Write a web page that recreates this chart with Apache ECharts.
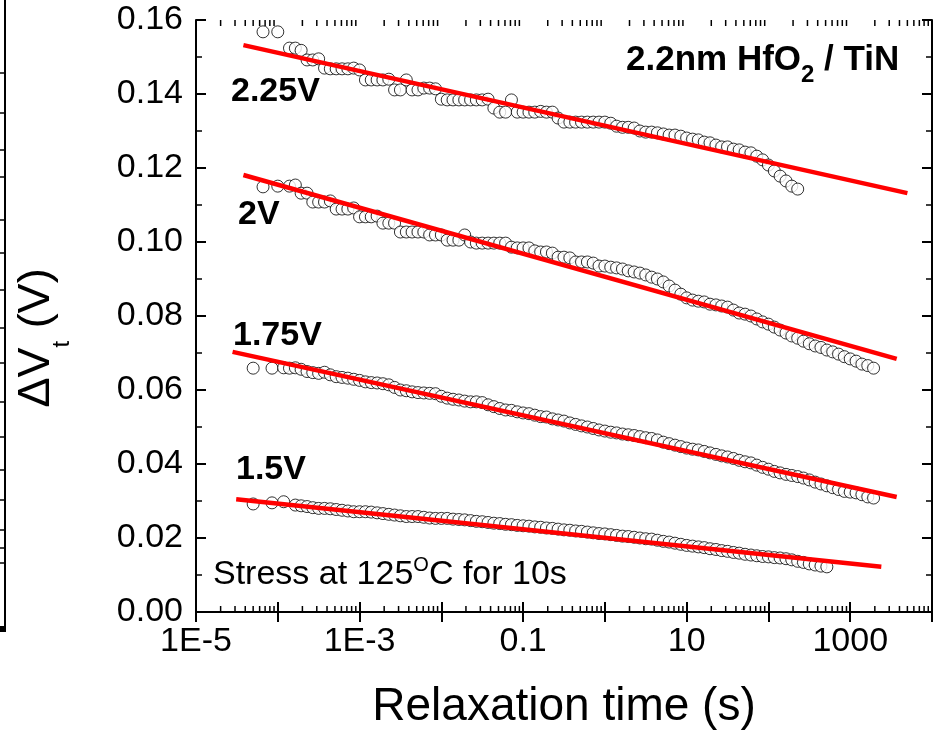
<!DOCTYPE html>
<html>
<head>
<meta charset="utf-8">
<script src="https://cdn.jsdelivr.net/npm/echarts@6/dist/echarts.min.js"></script>
<style>
  html, body { margin: 0; padding: 0; background: #fff; }
  #chart { width: 936px; height: 731px; }
</style>
</head>
<body>
<div id="chart"></div>
<script>
// relaxation time (s), shared by the four stress voltages
var relaxTime = [
  5.0e-5, 6.6e-5, 8.5e-5,
  1.00e-4, 1.18e-4, 1.39e-4, 1.64e-4, 1.93e-4, 2.28e-4, 2.68e-4, 3.16e-4, 3.73e-4, 4.39e-4, 5.18e-4, 6.11e-4, 7.20e-4, 8.48e-4,
  1.00e-3, 1.18e-3, 1.39e-3, 1.64e-3, 1.93e-3, 2.28e-3, 2.68e-3, 3.16e-3, 3.73e-3, 4.39e-3, 5.18e-3, 6.11e-3, 7.20e-3, 8.48e-3,
  1.00e-2, 1.18e-2, 1.39e-2, 1.64e-2, 1.93e-2, 2.28e-2, 2.68e-2, 3.16e-2, 3.73e-2, 4.39e-2, 5.18e-2, 6.11e-2, 7.20e-2, 8.48e-2,
  0.100, 0.118, 0.139, 0.164, 0.193, 0.228, 0.268, 0.316, 0.373, 0.439, 0.518, 0.611, 0.720, 0.848,
  1.00, 1.18, 1.39, 1.64, 1.93, 2.28, 2.68, 3.16, 3.73, 4.39, 5.18, 6.11, 7.20, 8.48,
  10.0, 11.8, 13.9, 16.4, 19.3, 22.8, 26.8, 31.6, 37.3, 43.9, 51.8, 61.1, 72.0, 84.8,
  100, 118, 139, 164, 193, 228, 268, 316, 373, 439, 518, 611, 720, 848,
  1000, 1180, 1390, 1640, 1930
];

// delta Vt (V) for each stress voltage, null = no point at that time
var dVt225 = [
  null, 0.1568, null,
  0.1568, null, 0.1524, 0.1524, 0.1518, 0.1492, 0.1492, 0.1495, 0.1470, 0.1468, 0.1468, 0.1468, 0.1468, 0.1470,
  0.1465, 0.1438, 0.1438, 0.1438, 0.1438, 0.1440, 0.1411, 0.1411, 0.1438, 0.1411, 0.1411, 0.1416, 0.1416, 0.1414,
  0.1386, 0.1384, 0.1384, 0.1384, 0.1384, 0.1384, 0.1384, 0.1384, 0.1386, 0.1362, 0.1351, 0.1351, 0.1384, 0.1351,
  0.1351, 0.1351, 0.1351, 0.1353, 0.1351, 0.1351, 0.1335, 0.1324, 0.1324, 0.1324, 0.1324, 0.1324, 0.1324, 0.1324,
  0.1324, 0.1321, 0.1313, 0.1310, 0.1310, 0.1308, 0.1300, 0.1297, 0.1297, 0.1295, 0.1292, 0.1289, 0.1289, 0.1286,
  0.1281, 0.1278, 0.1276, 0.1270, 0.1268, 0.1262, 0.1257, 0.1257, 0.1251, 0.1249, 0.1243, 0.1241, 0.1232, 0.1222,
  0.1208, 0.1192, 0.1178, 0.1165, 0.1151, 0.1143, null, null, null, null, null, null, null, null,
  null, null, null, null, null
];
var dVt200 = [
  null, 0.1149, null,
  0.1151, null, 0.1151, 0.1154, 0.1132, 0.1132, 0.1108, 0.1108, 0.1108, 0.1111, 0.1089, 0.1089, 0.1089, 0.1092,
  0.1068, 0.1068, 0.1068, 0.1070, 0.1051, 0.1051, 0.1051, 0.1027, 0.1027, 0.1027, 0.1027, 0.1027, 0.1019, 0.1019,
  0.1019, 0.1005, 0.1005, 0.1005, 0.1019, 0.1000, 0.0997, 0.0997, 0.0997, 0.0997, 0.0997, 0.0997, 0.0986, 0.0984,
  0.0984, 0.0984, 0.0976, 0.0973, 0.0973, 0.0970, 0.0959, 0.0959, 0.0957, 0.0946, 0.0946, 0.0946, 0.0943, 0.0935,
  0.0935, 0.0932, 0.0930, 0.0927, 0.0922, 0.0919, 0.0916, 0.0911, 0.0905, 0.0900, 0.0892, 0.0881, 0.0870, 0.0859,
  0.0849, 0.0843, 0.0840, 0.0838, 0.0832, 0.0830, 0.0827, 0.0824, 0.0816, 0.0808, 0.0805, 0.0800, 0.0792, 0.0784,
  0.0778, 0.0770, 0.0762, 0.0754, 0.0746, 0.0740, 0.0732, 0.0725, 0.0719, 0.0715, 0.0708, 0.0703, 0.0697, 0.0690,
  0.0684, 0.0678, 0.0670, 0.0666, 0.0659
];
var dVt175 = [
  0.0659, null, 0.0659,
  null, 0.0660, 0.0659, 0.0660, 0.0656, 0.0650, 0.0647, 0.0645, 0.0648, 0.0641, 0.0636, 0.0634, 0.0632, 0.0629,
  0.0626, 0.0622, 0.0620, 0.0619, 0.0617, 0.0614, 0.0607, 0.0600, 0.0598, 0.0595, 0.0593, 0.0592, 0.0591, 0.0590,
  0.0583, 0.0578, 0.0575, 0.0573, 0.0570, 0.0568, 0.0568, 0.0566, 0.0560, 0.0555, 0.0550, 0.0546, 0.0545, 0.0541,
  0.0538, 0.0536, 0.0532, 0.0528, 0.0527, 0.0522, 0.0519, 0.0516, 0.0511, 0.0507, 0.0503, 0.0500, 0.0496, 0.0492,
  0.0489, 0.0486, 0.0484, 0.0481, 0.0479, 0.0477, 0.0474, 0.0471, 0.0469, 0.0465, 0.0459, 0.0455, 0.0451, 0.0447,
  0.0443, 0.0440, 0.0438, 0.0434, 0.0430, 0.0426, 0.0422, 0.0419, 0.0415, 0.0410, 0.0406, 0.0403, 0.0397, 0.0391,
  0.0386, 0.0380, 0.0376, 0.0372, 0.0369, 0.0366, 0.0362, 0.0357, 0.0351, 0.0346, 0.0341, 0.0336, 0.0331, 0.0326,
  0.0324, 0.0322, 0.0317, 0.0311, 0.0308
];
var dVt150 = [
  0.0292, null, 0.0295,
  null, 0.0298, null, 0.0289, 0.0287, 0.0285, 0.0282, 0.0280, 0.0280, 0.0279, 0.0277, 0.0275, 0.0273, 0.0271,
  0.0271, 0.0271, 0.0270, 0.0268, 0.0266, 0.0264, 0.0262, 0.0260, 0.0258, 0.0258, 0.0258, 0.0256, 0.0254, 0.0253,
  0.0253, 0.0253, 0.0251, 0.0250, 0.0249, 0.0247, 0.0245, 0.0244, 0.0242, 0.0240, 0.0239, 0.0237, 0.0236, 0.0234,
  0.0233, 0.0232, 0.0230, 0.0229, 0.0227, 0.0226, 0.0224, 0.0222, 0.0221, 0.0219, 0.0218, 0.0216, 0.0214, 0.0212,
  0.0211, 0.0209, 0.0207, 0.0205, 0.0204, 0.0202, 0.0200, 0.0198, 0.0197, 0.0194, 0.0191, 0.0189, 0.0186, 0.0183,
  0.0180, 0.0178, 0.0176, 0.0174, 0.0171, 0.0169, 0.0166, 0.0164, 0.0161, 0.0159, 0.0156, 0.0154, 0.0152, 0.0150,
  0.0149, 0.0147, 0.0146, 0.0144, 0.0141, 0.0137, 0.0134, 0.0130, 0.0127, 0.0124, 0.0122, null, null, null,
  null, null, null, null, null
];

// linear-in-log(t) fits: [start, end]
var fitTime225 = [3.8e-5, 5.0e3], fitVal225 = [0.1532, 0.1132];
var fitTime200 = [3.8e-5, 3.7e3], fitVal200 = [0.1181, 0.0684];
var fitTime175 = [2.8e-5, 3.7e3], fitVal175 = [0.0703, 0.0311];
var fitTime150 = [3.1e-5, 2.4e3], fitVal150 = [0.0305, 0.0122];

// axes
var xMin = 1e-5, xMax = 1e4;
var yMin = 0, yMax = 0.16, yStep = 0.02;
var xLabelExp = [-5, -3, -1, 1, 3];
var xLabelText = ['1E-5', '1E-3', '0.1', '10', '1000'];

var FONT = "'Liberation Sans', Arial, sans-serif";

function toPoints(vals) {
  var pts = [];
  for (var i = 0; i < relaxTime.length; i++) {
    if (vals[i] != null) pts.push([relaxTime[i], vals[i]]);
  }
  return pts;
}

// minor ticks 2..9 in each decade of the log axis
var minorTicks = [];
for (var e = -5; e < 4; e++) {
  for (var m = 2; m <= 9; m++) minorTicks.push([m * Math.pow(10, e), 0]);
}

function scatterSeries(vals) {
  return {
    type: 'scatter', data: toPoints(vals), z: 2,
    symbol: 'circle', symbolSize: 12,
    itemStyle: { color: '#fff', borderColor: '#000', borderWidth: 1 }
  };
}
function fitSeries(ts, vs) {
  return {
    type: 'line', data: [[ts[0], vs[0]], [ts[1], vs[1]]], z: 3,
    showSymbol: false, symbol: 'none',
    lineStyle: { color: '#ff0000', width: 4.5 }
  };
}

var axisLine = { show: true, lineStyle: { color: '#000', width: 2 } };
var majorTick = { show: true, inside: true, length: 10, lineStyle: { color: '#000', width: 2 } };

var chart = echarts.init(document.getElementById('chart'), null, { renderer: 'canvas' });
chart.setOption({
  animation: false,
  backgroundColor: '#fff',
  grid: { left: 196, right: 4, top: 20, bottom: 119, outerBoundsMode: 'none', containLabel: false },
  xAxis: [{
    type: 'log', logBase: 10, min: xMin, max: xMax, position: 'bottom',
    axisLine: axisLine, axisTick: majorTick, splitLine: { show: false },
    axisLabel: {
      interval: 0, margin: 13, color: '#000', fontSize: 34, fontFamily: FONT,
      formatter: function (v) {
        var i = xLabelExp.indexOf(Math.round(Math.log10(v)));
        return i >= 0 ? xLabelText[i] : '';
      }
    },
    name: 'Relaxation time (s)', nameLocation: 'middle', nameGap: 72,
    nameTextStyle: { color: '#000', fontSize: 46, fontFamily: FONT }
  }, {
    type: 'log', logBase: 10, min: xMin, max: xMax, position: 'top',
    axisLine: axisLine, axisTick: majorTick, splitLine: { show: false },
    axisLabel: { show: false }
  }],
  yAxis: [{
    type: 'value', min: yMin, max: yMax, interval: yStep, position: 'left',
    axisLine: axisLine, axisTick: majorTick, splitLine: { show: false },
    minorTick: { show: true, splitNumber: 2, length: 6, lineStyle: { color: '#000', width: 1.5 } },
    axisLabel: {
      margin: 13, color: '#000', fontSize: 34, fontFamily: FONT,
      formatter: function (v) { return v.toFixed(2); }
    }
  }, {
    type: 'value', min: yMin, max: yMax, interval: yStep, position: 'right',
    axisLine: axisLine, axisTick: majorTick, splitLine: { show: false },
    minorTick: { show: true, splitNumber: 2, length: 6, lineStyle: { color: '#000', width: 1.5 } },
    axisLabel: { show: false }
  }],
  series: [
    {
      type: 'custom', data: minorTicks, z: 5, clip: false, silent: true,
      renderItem: function (params, api) {
        var v = api.value(0);
        var b = api.coord([v, yMin]);
        var t = api.coord([v, yMax]);
        var st = { stroke: '#000', lineWidth: 1.5 };
        return {
          type: 'group', children: [
            { type: 'line', shape: { x1: b[0], y1: b[1], x2: b[0], y2: b[1] - 6 }, style: st },
            { type: 'line', shape: { x1: t[0], y1: t[1], x2: t[0], y2: t[1] + 6 }, style: st }
          ]
        };
      }
    },
    scatterSeries(dVt225),
    scatterSeries(dVt200),
    scatterSeries(dVt175),
    scatterSeries(dVt150),
    fitSeries(fitTime225, fitVal225),
    fitSeries(fitTime200, fitVal200),
    fitSeries(fitTime175, fitVal175),
    fitSeries(fitTime150, fitVal150)
  ],
  graphic: (function () {
    var g = [];
    var bold = { fontSize: 34, fontWeight: 'bold', fontFamily: FONT, fill: '#000' };
    // stress voltage labels
    [['2.25V', 231, 92], ['2V', 238, 215], ['1.75V', 233, 336], ['1.5V', 236, 470]].forEach(function (l) {
      g.push({ type: 'text', x: l[1], y: l[2], z: 10,
        style: echarts.util.extend({ text: l[0], align: 'left', verticalAlign: 'middle' }, bold) });
    });
    // sample label with subscript
    g.push({ type: 'text', x: 626, y: 60, z: 10, style: {
      text: '{b|2.2nm HfO}{s|2}{b| / TiN}', align: 'left', verticalAlign: 'middle',
      rich: {
        b: { fontSize: 35, fontWeight: 'bold', fontFamily: FONT, fill: '#000', lineHeight: 35 },
        s: { fontSize: 24, fontWeight: 'bold', fontFamily: FONT, fill: '#000', lineHeight: 24, padding: [30, 0, 0, 0] }
      }
    } });
    // stress condition with superscript
    g.push({ type: 'text', x: 213, y: 575, z: 10, style: {
      text: '{r|Stress at 125}{p|O}{r|C for 10s}', align: 'left', verticalAlign: 'middle',
      rich: {
        r: { fontSize: 34, fontFamily: FONT, fill: '#000', lineHeight: 34 },
        p: { fontSize: 20, fontFamily: FONT, fill: '#000', lineHeight: 20, padding: [0, 0, 20, 0] }
      }
    } });
    // y axis title
    g.push({ type: 'text', x: 37, y: 338, rotation: Math.PI / 2, z: 10, style: {
      text: '{a|\u0394V}{s|t}{a| (V)}', align: 'center', verticalAlign: 'middle',
      rich: {
        a: { fontSize: 45, fontFamily: FONT, fill: '#000', lineHeight: 45 },
        s: { fontSize: 24, fontFamily: FONT, fill: '#000', lineHeight: 24, padding: [50, 0, 0, 0] }
      }
    } });
    // edge of the neighbouring panel, cut off at the left border
    g.push({ type: 'line', shape: { x1: 5, y1: 0, x2: 5, y2: 632 }, style: { stroke: '#000', lineWidth: 2 } });
    g.push({ type: 'rect', shape: { x: 0, y: 626, width: 6, height: 6 }, style: { fill: '#000' } });
    [73, 113, 150, 177, 220, 253, 290, 328, 363, 402, 437, 470, 500, 530, 548, 563].forEach(function (y) {
      g.push({ type: 'line', shape: { x1: 0, y1: y, x2: 5, y2: y }, style: { stroke: '#000', lineWidth: 1.5 } });
    });
    return g;
  })()
});
</script>
</body>
</html>
